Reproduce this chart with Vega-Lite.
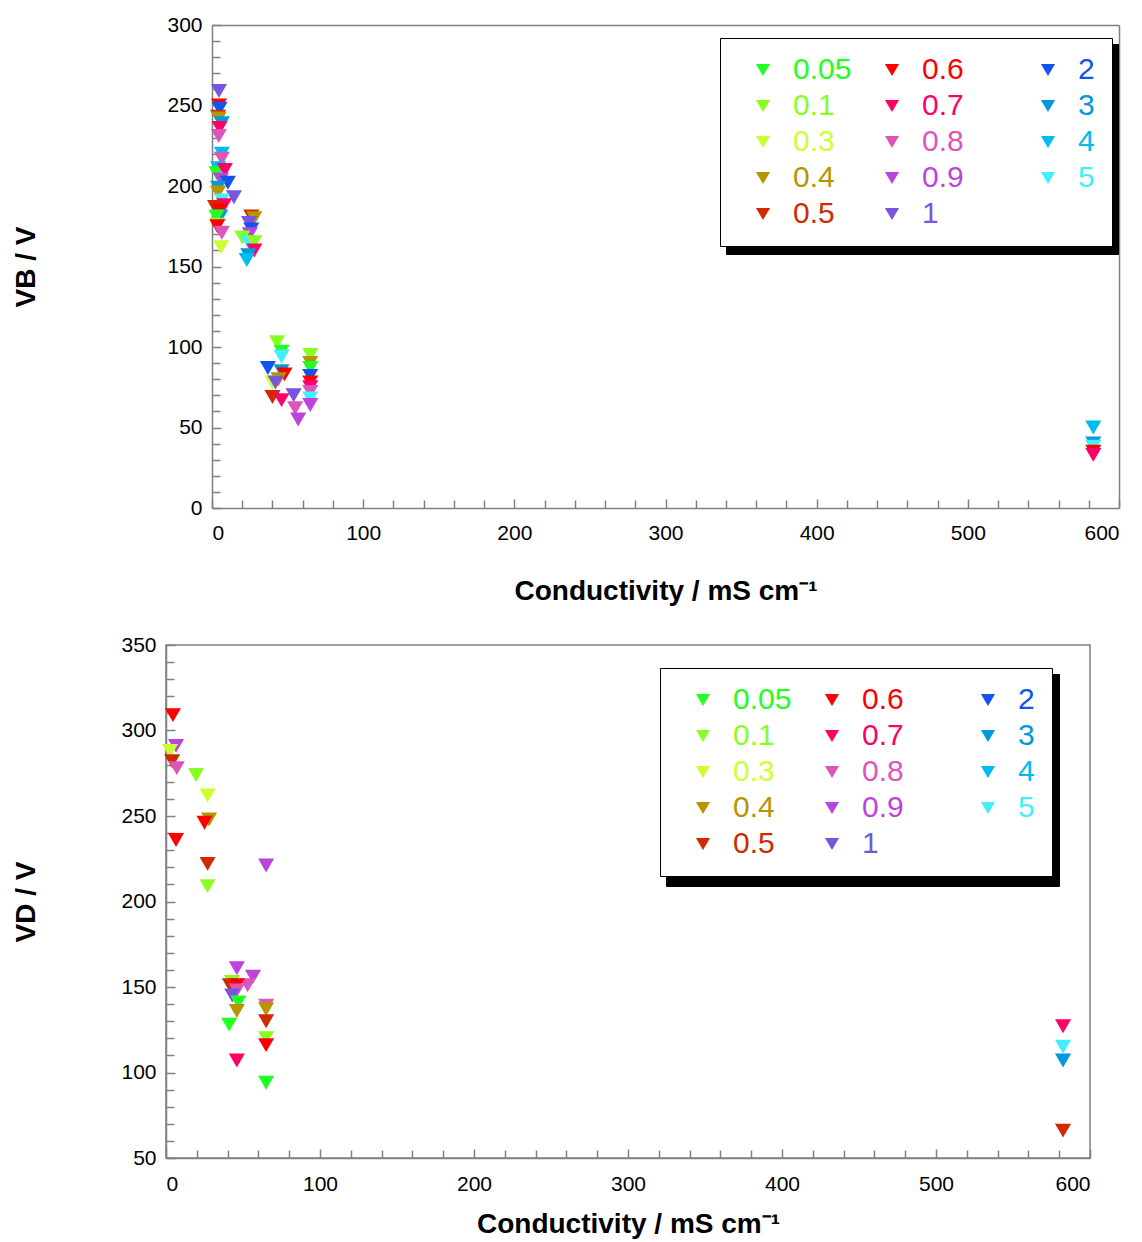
{
  "$schema": "https://vega.github.io/schema/vega-lite/v6.json",
  "background": "white",
  "padding": {"left": 12, "top": 14, "right": 5, "bottom": 5},
  "spacing": 27,
  "datasets": {
    "vb": [
      {"cond": 4.6, "v": 259, "series": "1"},
      {"cond": 4.6, "v": 250, "series": "0.6"},
      {"cond": 5, "v": 248, "series": "2"},
      {"cond": 4, "v": 243, "series": "0.5"},
      {"cond": 4.5, "v": 242, "series": "0.4"},
      {"cond": 6.5, "v": 239, "series": "3"},
      {"cond": 5, "v": 236, "series": "0.7"},
      {"cond": 4.5, "v": 231, "series": "0.8"},
      {"cond": 6.5, "v": 220, "series": "4"},
      {"cond": 6.5, "v": 217, "series": "0.8"},
      {"cond": 4, "v": 211, "series": "4"},
      {"cond": 3, "v": 208, "series": "0.05"},
      {"cond": 8.5, "v": 210, "series": "0.7"},
      {"cond": 6, "v": 204, "series": "0.9"},
      {"cond": 10.5, "v": 202, "series": "2"},
      {"cond": 4, "v": 199, "series": "3"},
      {"cond": 4, "v": 196, "series": "0.4"},
      {"cond": 14.5, "v": 193, "series": "1"},
      {"cond": 6.5, "v": 191, "series": "5"},
      {"cond": 8, "v": 188, "series": "0.7"},
      {"cond": 2, "v": 187, "series": "0.5"},
      {"cond": 5, "v": 185, "series": "0.6"},
      {"cond": 5.5, "v": 181, "series": "3"},
      {"cond": 3, "v": 181, "series": "0.05"},
      {"cond": 3.5, "v": 176, "series": "0.1"},
      {"cond": 3.5, "v": 175, "series": "0.6"},
      {"cond": 6.5, "v": 171, "series": "0.8"},
      {"cond": 6, "v": 162, "series": "0.3"},
      {"cond": 26, "v": 181, "series": "0.5"},
      {"cond": 28, "v": 180, "series": "0.4"},
      {"cond": 24.5, "v": 177, "series": "1"},
      {"cond": 26, "v": 173, "series": "2"},
      {"cond": 25, "v": 170, "series": "0.9"},
      {"cond": 20, "v": 168, "series": "0.1"},
      {"cond": 24, "v": 165, "series": "5"},
      {"cond": 28, "v": 165, "series": "0.1"},
      {"cond": 28, "v": 160, "series": "0.7"},
      {"cond": 24, "v": 157, "series": "3"},
      {"cond": 23, "v": 154, "series": "4"},
      {"cond": 43, "v": 103, "series": "0.1"},
      {"cond": 46, "v": 97, "series": "0.05"},
      {"cond": 46, "v": 94, "series": "5"},
      {"cond": 37, "v": 87, "series": "2"},
      {"cond": 46, "v": 85, "series": "3"},
      {"cond": 48, "v": 83, "series": "0.6"},
      {"cond": 44, "v": 80, "series": "0.4"},
      {"cond": 40, "v": 78, "series": "0.3"},
      {"cond": 42, "v": 78, "series": "1"},
      {"cond": 40, "v": 69, "series": "0.5"},
      {"cond": 46, "v": 67, "series": "0.7"},
      {"cond": 54, "v": 70, "series": "1"},
      {"cond": 55, "v": 62, "series": "0.8"},
      {"cond": 57, "v": 55, "series": "0.9"},
      {"cond": 65, "v": 95, "series": "0.1"},
      {"cond": 65, "v": 90, "series": "0.4"},
      {"cond": 65, "v": 87, "series": "0.05"},
      {"cond": 65, "v": 82, "series": "2"},
      {"cond": 65, "v": 78, "series": "0.6"},
      {"cond": 65, "v": 75, "series": "0.7"},
      {"cond": 65, "v": 72, "series": "0.8"},
      {"cond": 65, "v": 68, "series": "5"},
      {"cond": 65, "v": 64, "series": "0.9"},
      {"cond": 583, "v": 50, "series": "4"},
      {"cond": 583, "v": 40, "series": "3"},
      {"cond": 583, "v": 38, "series": "5"},
      {"cond": 583, "v": 35, "series": "0.6"},
      {"cond": 583, "v": 33, "series": "0.7"}
    ],
    "vd": [
      {"cond": 4.5, "v": 309, "series": "0.6"},
      {"cond": 6.5, "v": 291, "series": "0.9"},
      {"cond": 2.6, "v": 288, "series": "0.3"},
      {"cond": 4, "v": 282, "series": "0.5"},
      {"cond": 7, "v": 278, "series": "0.8"},
      {"cond": 19.5, "v": 274, "series": "0.1"},
      {"cond": 27, "v": 262, "series": "0.3"},
      {"cond": 28, "v": 248, "series": "0.4"},
      {"cond": 25, "v": 246, "series": "0.6"},
      {"cond": 6.5, "v": 236, "series": "0.6"},
      {"cond": 27, "v": 222, "series": "0.5"},
      {"cond": 65, "v": 221, "series": "0.9"},
      {"cond": 27, "v": 209, "series": "0.1"},
      {"cond": 46, "v": 161, "series": "0.9"},
      {"cond": 56.5, "v": 156, "series": "0.9"},
      {"cond": 53, "v": 151, "series": "0.8"},
      {"cond": 43, "v": 153, "series": "0.1"},
      {"cond": 41.5, "v": 151, "series": "0.5"},
      {"cond": 46, "v": 151, "series": "0.6"},
      {"cond": 46, "v": 148, "series": "0.8"},
      {"cond": 43, "v": 145, "series": "1"},
      {"cond": 47, "v": 141, "series": "0.05"},
      {"cond": 46, "v": 136, "series": "0.4"},
      {"cond": 41, "v": 128, "series": "0.05"},
      {"cond": 46, "v": 107, "series": "0.7"},
      {"cond": 65, "v": 139, "series": "0.8"},
      {"cond": 65, "v": 137, "series": "0.4"},
      {"cond": 65, "v": 130, "series": "0.5"},
      {"cond": 65, "v": 120, "series": "0.1"},
      {"cond": 65, "v": 116, "series": "0.6"},
      {"cond": 65, "v": 94, "series": "0.05"},
      {"cond": 582.5, "v": 127, "series": "0.7"},
      {"cond": 582.5, "v": 115, "series": "5"},
      {"cond": 582.5, "v": 107, "series": "3"},
      {"cond": 582.5, "v": 66, "series": "0.5"}
    ]
  },
  "vconcat": [
    {
      "width": 953,
      "height": 483,
      "view": {"stroke": null},
      "data": {"name": "vb"},
      "layer": [
        {
          "mark": {"type": "point", "opacity": 0},
          "encoding": {
            "x": {"field": "cond", "type": "quantitative", "scale": {"domain": [0, 600], "nice": false, "range": [46, 953]},
              "axis": {"orient": "bottom", "values": [20,40,60,80,120,140,160,180,220,240,260,280,320,340,360,380,420,440,460,480,520,540,560,580], "labels": false, "domain": false, "tickSize": -8, "title": null}},
            "y": {"field": "v", "type": "quantitative", "scale": {"domain": [0, 300], "nice": false},
              "axis": {"orient": "left", "offset": -46, "values": [10,20,30,40,60,70,80,90,110,120,130,140,160,170,180,190,210,220,230,240,260,270,280,290], "labels": false, "domain": false, "tickSize": -8, "title": null}},
            "fill": {"field": "v", "type": "quantitative", "scale": {"range": ["#000000", "#000000"]},
              "legend": {"orient": "none", "legendX": 560, "legendY": 19, "zindex": 1, "direction": "horizontal",
                "gradientLength": 392, "gradientThickness": 209, "gradientStrokeWidth": 0, "padding": 0,
                "labelExpr": "''", "labelOffset": 0, "labelFontSize": 1, "fillColor": "#000000", "strokeColor": "#000000"}}
          }
        },
        {
          "mark": {"type": "point", "opacity": 0},
          "encoding": {
            "x": {"field": "cond", "type": "quantitative", "scale": {"domain": [0, 600], "nice": false, "range": [46, 953]},
              "axis": {"orient": "top", "labels": false, "ticks": false, "title": null}},
            "y": {"field": "v", "type": "quantitative", "scale": {"domain": [0, 300], "nice": false},
              "axis": {"orient": "right", "labels": false, "ticks": false, "title": null}}
          }
        },
        {
          "mark": {"type": "point", "shape": "triangle-down", "filled": true, "size": 260, "opacity": 1},
          "encoding": {
            "x": {"field": "cond", "type": "quantitative", "scale": {"domain": [0, 600], "nice": false, "range": [46, 953]},
              "axis": {"orient": "bottom", "values": [0,100,200,300,400,500,600], "tickSize": -9, "labelPadding": 23.5, "title": "Conductivity / mS cm⁻¹", "titlePadding": 34}},
            "y": {"field": "v", "type": "quantitative", "scale": {"domain": [0, 300], "nice": false},
              "axis": {"orient": "left", "offset": -46, "values": [0,50,100,150,200,250,300], "tickSize": -9, "labelPadding": 19, "title": "VB / V", "titlePadding": 126}},
            "color": {"field": "series", "type": "nominal",
              "scale": {"domain": ["0.05","0.1","0.3","0.4","0.5","0.6","0.7","0.8","0.9","1","2","3","4","5"],
                "range": ["#22ff22","#88ff22","#ccff33","#b89400","#d02a00","#ff0000","#ff0066","#dd55bb","#bb44dd","#7755dd","#1155ee","#0099dd","#00bbee","#44eeff"]},
              "legend": {"orient": "none", "legendX": 554, "legendY": 13, "zindex": 2,
                "labelExpr": "indexof(['0.6','0.7','0.8','0.9','1'], datum.label) >= 0 ? datum.label + '\u2800\u2800' : datum.label",
                "labelColor": {"expr": "['#22ff22','#88ff22','#ccff33','#b89400','#d02a00','#ff0000','#ff0066','#dd55bb','#bb44dd','#7755dd','#1155ee','#0099dd','#00bbee','#44eeff'][indexof(['0.05','0.1','0.3','0.4','0.5','0.6','0.7','0.8','0.9','1','2','3','4','5'], datum.value)]"},
                "encode": {"legend": {"update": {"strokeWidth": {"value": 2}}}}}
            }
          }
        }
      ],
      "resolve": {"axis": {"x": "independent", "y": "independent"}}
    },
    {
      "width": 924,
      "height": 513,
      "data": {"name": "vd"},
      "layer": [
        {
          "mark": {"type": "point", "opacity": 0},
          "encoding": {
            "x": {"field": "cond", "type": "quantitative", "scale": {"domain": [0, 600], "nice": false},
              "axis": {"orient": "bottom", "values": [20,40,60,80,120,140,160,180,220,240,260,280,320,340,360,380,420,440,460,480,520,540,560,580], "labels": false, "domain": false, "tickSize": -8, "title": null}},
            "y": {"field": "v", "type": "quantitative", "scale": {"domain": [50, 350], "nice": false},
              "axis": {"orient": "left", "values": [60,70,80,90,110,120,130,140,160,170,180,190,210,220,230,240,260,270,280,290,310,320,330,340], "labels": false, "domain": false, "tickSize": -8, "title": null}},
            "fill": {"field": "v", "type": "quantitative", "scale": {"range": ["#000000", "#000000"]},
              "legend": {"orient": "none", "legendX": 500, "legendY": 29, "zindex": 1, "direction": "horizontal",
                "gradientLength": 393, "gradientThickness": 211, "gradientStrokeWidth": 0, "padding": 0,
                "labelExpr": "''", "labelOffset": 0, "labelFontSize": 1, "fillColor": "#000000", "strokeColor": "#000000"}}
          }
        },
        {
          "mark": {"type": "point", "shape": "triangle-down", "filled": true, "size": 260, "opacity": 1},
          "encoding": {
            "x": {"field": "cond", "type": "quantitative", "scale": {"domain": [0, 600], "nice": false},
              "axis": {"orient": "bottom", "values": [0,100,200,300,400,500,600], "tickSize": -9, "labelPadding": 24.5, "title": "Conductivity / mS cm⁻¹", "titlePadding": 16}},
            "y": {"field": "v", "type": "quantitative", "scale": {"domain": [50, 350], "nice": false},
              "axis": {"orient": "left", "values": [50,100,150,200,250,300,350], "tickSize": -9, "labelPadding": 19, "title": "VD / V", "titlePadding": 80}},
            "color": {"field": "series", "type": "nominal",
              "scale": {"domain": ["0.05","0.1","0.3","0.4","0.5","0.6","0.7","0.8","0.9","1","2","3","4","5"],
                "range": ["#22ff22","#88ff22","#ccff33","#b89400","#d02a00","#ff0000","#ff0066","#dd55bb","#bb44dd","#7755dd","#1155ee","#0099dd","#00bbee","#44eeff"]},
              "legend": {"orient": "none", "legendX": 494, "legendY": 23, "zindex": 2,
                "labelExpr": "indexof(['0.6','0.7','0.8','0.9','1'], datum.label) >= 0 ? datum.label + '\u2800\u2800' : datum.label",
                "labelColor": {"expr": "['#22ff22','#88ff22','#ccff33','#b89400','#d02a00','#ff0000','#ff0066','#dd55bb','#bb44dd','#7755dd','#1155ee','#0099dd','#00bbee','#44eeff'][indexof(['0.05','0.1','0.3','0.4','0.5','0.6','0.7','0.8','0.9','1','2','3','4','5'], datum.value)]"},
                "encode": {"legend": {"update": {"strokeWidth": {"value": 2}}}}}
            }
          }
        }
      ],
      "resolve": {"axis": {"x": "independent", "y": "independent"}}
    }
  ],
  "resolve": {"scale": {"color": "independent", "fill": "independent", "x": "independent", "y": "independent"}, "legend": {"color": "independent", "fill": "independent"}},
  "config": {
    "font": "Liberation Sans",
    "view": {"stroke": "#808080", "strokeWidth": 1.5},
    "axis": {
      "labelFont": "Liberation Sans", "labelFontSize": 21, "labelColor": "#000000",
      "titleFont": "Liberation Sans", "titleFontSize": 28, "titleFontWeight": "bold", "titleColor": "#000000",
      "domainColor": "#808080", "domainWidth": 1.5, "tickColor": "#808080", "tickWidth": 1.5, "grid": false
    },
    "legend": {
      "title": null,
      "columns": 3,
      "gridAlign": "each",
      "columnPadding": 14,
      "rowPadding": 6,
      "padding": 17,
      "symbolOffset": 11,
      "symbolType": "triangle-down",
      "symbolSize": 200,
      "symbolStrokeWidth": 0,
      "labelFont": "Liberation Sans",
      "labelFontSize": 30,
      "labelOffset": 15,
      "labelLimit": 400,
      "gradientHorizontalMaxLength": 500,
      "strokeColor": "#000000",
      "fillColor": "#ffffff"
    }
  }
}
